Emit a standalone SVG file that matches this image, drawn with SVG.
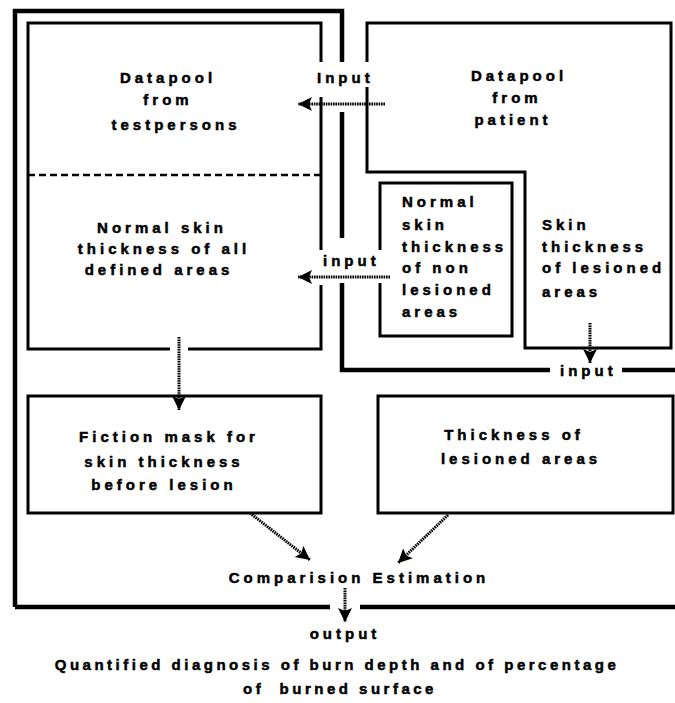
<svg xmlns="http://www.w3.org/2000/svg" width="675" height="703" viewBox="0 0 675 703">
<style>
text{font-family:"Liberation Sans",Arial,sans-serif;font-weight:bold;font-size:15px;letter-spacing:4px;fill:#000;stroke:#000;stroke-width:0.5}
.c{text-anchor:middle}
.frame{fill:none;stroke:#000;stroke-width:4.5;stroke-linejoin:miter}
.box{fill:none;stroke:#000;stroke-width:3}
.dash{fill:none;stroke:#000;stroke-width:2.5;stroke-dasharray:7 4}
.arr{fill:none;stroke:#000;stroke-width:3;stroke-dasharray:1.6 0.8}
.bt{letter-spacing:3.5px;white-space:pre}
</style>
<defs>
<marker id="ah" markerUnits="userSpaceOnUse" markerWidth="16" markerHeight="16" refX="14" refY="7" orient="auto">
<path d="M0,0 L14,7 L0,14 L3,7 z" fill="#000"/>
</marker>
</defs>
<rect width="675" height="703" fill="#fff"/>

<g id="frame">
<path class="frame" d="M15,607 V11 H342 V62 M342,112 V238 M342,283 V370 H550 M622,370 H675"/>
<path class="frame" d="M15,607 H330 M360,607 H675"/>
</g>

<g id="testpersons">
<path class="box" d="M321,62 V23 H28 V349 H170 M188,349 H321 V285 M321,97 V250"/>
<path class="dash" d="M28,175 H321"/>
<text class="c" x="168" y="83">Datapool</text>
<text class="c" x="168" y="105">from</text>
<text class="c" x="176" y="130">testpersons</text>
<text class="c" x="162" y="233">Normal skin</text>
<text class="c" x="164" y="254">thickness of all</text>
<text class="c" x="159" y="275">defined areas</text>
</g>

<g id="patient">
<path class="box" d="M367,62 V23 H671 V348 H525 V172 H367 V87"/>
<text class="c" x="519" y="81">Datapool</text>
<text class="c" x="517" y="103">from</text>
<text class="c" x="513" y="125">patient</text>
<text x="542" y="230">Skin</text>
<text x="542" y="252">thickness</text>
<text x="542" y="273">of lesioned</text>
<text x="542" y="297">areas</text>
</g>

<g id="nonlesioned">
<path class="box" d="M380,250 V183 H512 V336 H380 V283"/>
<text x="402" y="207">Normal</text>
<text x="402" y="230">skin</text>
<text x="402" y="252">thickness</text>
<text x="402" y="273">of non</text>
<text x="402" y="295">lesioned</text>
<text x="402" y="317">areas</text>
</g>

<g id="fiction">
<rect class="box" x="28" y="396" width="293" height="117"/>
<text class="c" x="169" y="442">Fiction mask for</text>
<text class="c" x="164" y="467">skin thickness</text>
<text class="c" x="164" y="490">before lesion</text>
</g>

<g id="thickness">
<rect class="box" x="378" y="396" width="295" height="117"/>
<text class="c" x="514" y="440">Thickness of</text>
<text class="c" x="521" y="464">lesioned areas</text>
</g>

<g id="comparison">
<text class="c" x="359" y="583">Comparision Estimation</text>
</g>

<g id="result">
<text class="c" x="345" y="639">output</text>
<text class="c bt" x="337" y="670">Quantified diagnosis of burn depth and of percentage</text>
<text class="c bt" x="340" y="694">of  burned surface</text>
</g>

<g id="labels">
<text x="317" y="83">Input</text>
<text x="323" y="266">input</text>
<text x="560" y="376">input</text>
</g>

<g id="connectors">
<path class="arr" d="M385,104 H298" marker-end="url(#ah)"/>
<path class="arr" d="M390,277 H298" marker-end="url(#ah)"/>
<path class="arr" d="M179,337 V410" marker-end="url(#ah)"/>
<path class="arr" d="M590,323 V363" marker-end="url(#ah)"/>
<path class="arr" d="M250,513 L310,560" marker-end="url(#ah)"/>
<path class="arr" d="M448,515 L398,563" marker-end="url(#ah)"/>
<path class="arr" d="M345,588 V622" marker-end="url(#ah)"/>
</g>
</svg>
